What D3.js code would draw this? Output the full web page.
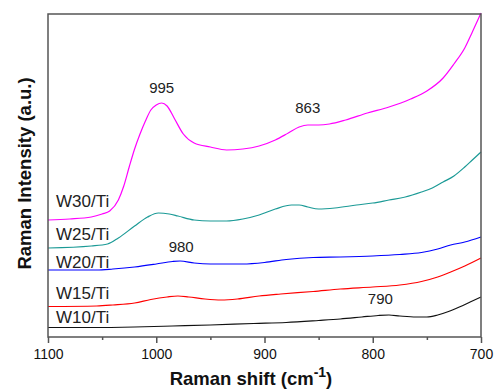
<!DOCTYPE html>
<html>
<head>
<meta charset="utf-8">
<script src="https://cdn.jsdelivr.net/npm/d3@7"></script>
<style>
  body { margin: 0; background: #fff; }
  svg { display: block; font-family: Arial, "Liberation Sans", sans-serif; }
</style>
</head>
<body>
<div id="chart"></div>
<script>
// Raman spectra, [shift (cm-1), intensity (a.u.)]
var w30 = [[1100,117],[1080,118],[1060,120],[1050,123],[1043,126],[1035,137],[1030,151],[1025,170],[1020,188],[1015,203],[1010,216],[1005,227],[1000,232],[995,234],[990,231],[983,218],[975,203],[965,194],[950,190],[935,187],[920,188],[905,191],[890,197],[878,204],[868,210],[860,212],[850,212],[840,213],[825,217],[805,224],[785,230],[765,238],[750,246],[735,259],[725,273],[715,289],[708,305],[700,324]];
var w25 = [[1100,89],[1060,91],[1045,93],[1035,99],[1020,111],[1008,120],[998,124],[988,123],[980,121],[965,117],[950,116],[935,116],[920,118],[905,122],[890,128],[875,132],[868,132],[860,130],[850,128],[835,129],[815,132],[800,134],[785,137],[770,140],[755,145],[745,149],[735,155],[725,161],[715,170],[708,177],[700,185]];
var w20 = [[1100,67],[1055,67],[1040,68],[1020,70],[1000,73],[985,75.5],[978,76],[965,74],[950,73],[920,73],[900,74.5],[880,77.5],[855,79.5],[830,80],[800,81],[775,82.5],[755,84.5],[740,88],[728,92],[715,95],[700,100]];
var w15 = [[1100,30.5],[1055,31],[1040,32],[1020,34],[1005,37.5],[990,40],[980,41],[970,40],[955,38],[940,37],[925,38],[905,41],[885,43],[855,45.5],[830,48],[800,50],[775,52],[755,55.5],[740,60],[728,65],[715,71],[700,79]];
var w10 = [[1100,9.5],[1060,9.5],[1020,10],[985,11],[950,12],[910,13.5],[880,14.5],[850,16.5],[830,18],[810,20],[795,21.5],[785,22],[775,21],[760,20],[750,20],[740,22],[730,25.5],[720,30],[710,35],[700,40]];

var seriesNames = ["W30/Ti", "W25/Ti", "W20/Ti", "W15/Ti", "W10/Ti"];
var seriesData = [w30, w25, w20, w15, w10];
var seriesColors = ["#ff00ff", "#1b9a96", "#0000ff", "#ff0000", "#111111"];
var peakLabels = [995, 863, 980, 790];
var xTicks = [1100, 1000, 900, 800, 700];

var svgWidth = 494, svgHeight = 390;
var margin = { top: 14, right: 13, bottom: 53, left: 48 };
var width = svgWidth - margin.left - margin.right;
var height = svgHeight - margin.top - margin.bottom;

var svg = d3.select("#chart").append("svg")
    .attr("width", svgWidth)
    .attr("height", svgHeight);

var chartGroup = svg.append("g")
    .attr("transform", `translate(${margin.left}, ${margin.top})`);

var xScale = d3.scaleLinear().domain([1100, 700]).range([0, width]);
var yScale = d3.scaleLinear().domain([0, 323]).range([height, 0]);

// curves
var line = d3.line()
    .x(d => xScale(d[0]))
    .y(d => yScale(d[1]))
    .curve(d3.curveMonotoneX);

seriesData.forEach(function(data, i) {
    chartGroup.append("path")
        .datum(data)
        .attr("d", line)
        .attr("fill", "none")
        .attr("stroke", seriesColors[i])
        .attr("stroke-width", 1.2);
});

// frame
chartGroup.append("rect")
    .attr("width", width)
    .attr("height", height)
    .attr("fill", "none")
    .attr("stroke", "#555")
    .attr("stroke-width", 1.5);

// x axis, major + minor ticks
var xAxis = d3.axisBottom(xScale).tickValues(xTicks).tickSize(6).tickPadding(6).tickFormat(d3.format("d"));
var xg = chartGroup.append("g")
    .attr("transform", `translate(0, ${height})`)
    .call(xAxis);
xg.select(".domain").remove();
xg.selectAll(".tick line").attr("stroke", "#555").attr("stroke-width", 1.5);
xg.selectAll(".tick text").attr("font-size", "14px").attr("fill", "#111").attr("font-family", "Arial, 'Liberation Sans', sans-serif");

var minor = chartGroup.append("g")
    .attr("transform", `translate(0, ${height})`)
    .call(d3.axisBottom(xScale).tickValues([1050, 950, 850, 750]).tickSize(3).tickFormat(""));
minor.select(".domain").remove();
minor.selectAll(".tick line").attr("stroke", "#555").attr("stroke-width", 1.5);

// series labels
var labelY = [130, 97, 69, 38.5, 13.7];
seriesNames.forEach(function(name, i) {
    chartGroup.append("text")
        .attr("x", xScale(1092.6))
        .attr("y", yScale(labelY[i]))
        .attr("font-size", "17px")
        .attr("fill", "#222")
        .text(name);
});

// peak labels
var peakPos = [[995, 244], [860, 224], [977, 85], [793, 33]];
peakLabels.forEach(function(p, i) {
    chartGroup.append("text")
        .attr("x", xScale(peakPos[i][0]))
        .attr("y", yScale(peakPos[i][1]))
        .attr("text-anchor", "middle")
        .attr("font-size", "15px")
        .attr("fill", "#222")
        .text(p);
});

// axis titles
var xTitle = svg.append("text")
    .attr("x", 251)
    .attr("y", 385)
    .attr("text-anchor", "middle")
    .attr("font-size", "18.5px")
    .attr("font-weight", "bold")
    .attr("fill", "#111");
xTitle.append("tspan").text("Raman shift (cm");
xTitle.append("tspan").attr("dy", -8).attr("font-size", "14px").text("-1");
xTitle.append("tspan").attr("dy", 8).text(")");

svg.append("text")
    .attr("transform", "translate(31, 173.5) rotate(-90)")
    .attr("text-anchor", "middle")
    .attr("font-size", "18.5px")
    .attr("font-weight", "bold")
    .attr("fill", "#111")
    .text("Raman Intensity (a.u.)");
</script>
</body>
</html>
